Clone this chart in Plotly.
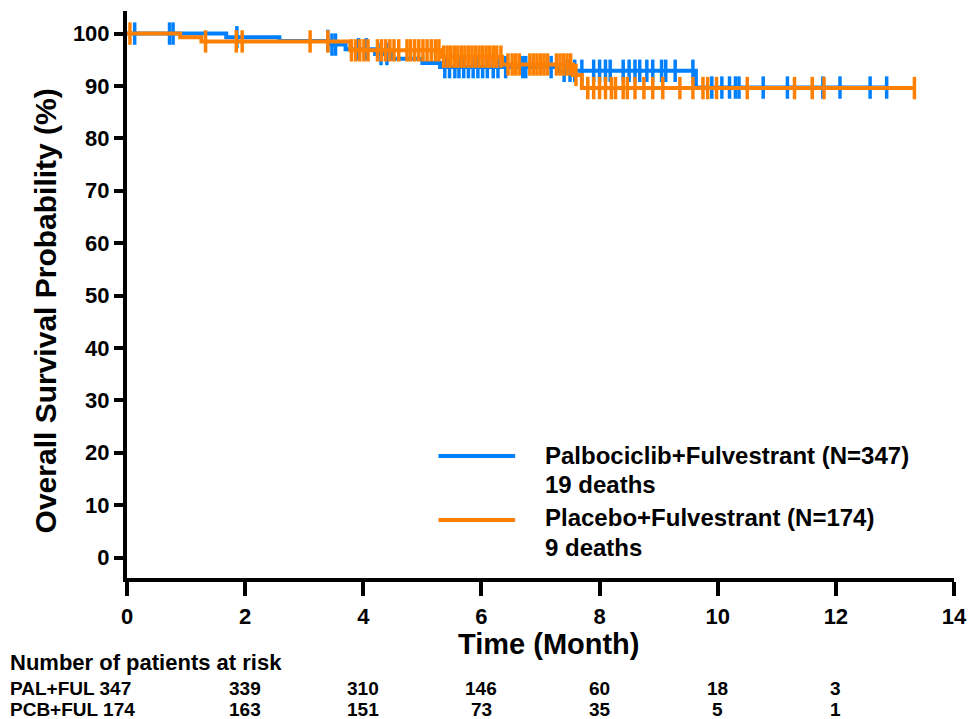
import plotly.graph_objects as go

# ---------------- data ----------------
# Kaplan-Meier step levels (time in months, survival in %)
pal_times = [0, 1.68, 2.58, 3.45, 3.70, 4.20, 4.50, 5.00, 5.30, 7.30, 9.63]
pal_surv = [100, 99.3, 98.6, 97.9, 97.0, 96.1, 95.2, 94.4, 93.6, 92.9, 89.7]
pal_end = 12.88
pal_censor = [0.13, 0.72, 0.78, 1.86, 3.40, 3.47, 3.53, 3.92, 4.05, 4.30, 4.40,
              5.38, 5.46, 5.55, 5.62, 5.70, 5.78,
              5.86, 5.94, 6.02, 6.10, 6.20, 6.28, 6.41, 6.70, 6.75, 7.18, 7.40,
              7.50, 7.58, 7.70, 7.90, 8.00, 8.10, 8.18, 8.40, 8.50, 8.60, 8.68,
              8.80, 8.90, 9.05, 9.12, 9.28, 9.58, 9.90, 10.07, 10.20, 10.30,
              10.36, 10.77, 11.18, 11.78, 12.07, 12.58, 12.86]

pcb_times = [0, 0.90, 1.26, 3.78, 5.30, 6.35, 7.55, 7.70]
pcb_surv = [100, 99.3, 98.5, 96.8, 95.6, 94.1, 92.1, 89.6]
pcb_end = 13.33
pcb_censor = [0.05, 1.33, 1.85, 1.95, 3.10, 3.40, 3.80, 3.87, 3.94, 4.01, 4.08,
              4.24, 4.31, 4.38, 4.45, 4.52, 4.60, 4.74, 4.80, 4.87, 4.94, 5.01,
              5.08, 5.15, 5.22, 5.28, 5.36, 5.42, 5.48, 5.54, 5.60, 5.66, 5.72,
              5.78, 5.84, 5.90, 5.96, 6.02, 6.08, 6.14, 6.20, 6.26, 6.33, 6.45,
              6.52, 6.58, 6.64, 6.82, 6.88, 6.94, 7.00, 7.06, 7.12, 7.27, 7.33,
              7.39, 7.45, 7.51, 7.60, 7.80, 7.90, 8.00, 8.10, 8.20, 8.27, 8.40,
              8.47, 8.60, 8.75, 8.90, 9.07, 9.36, 9.58, 9.75, 9.83, 9.98, 10.50,
              11.30, 11.60, 11.80, 13.33]

series_names = ["Palbociclib+Fulvestrant (N=347)", "Placebo+Fulvestrant (N=174)"]
series_deaths = ["19 deaths", "9 deaths"]
colors = ["#0080FF", "#FF8000"]

risk_times = [2, 4, 6, 8, 10, 12]
risk_labels = ["PAL+FUL 347", "PCB+FUL 174"]
pal_risk = [339, 310, 146, 60, 18, 3]
pcb_risk = [163, 151, 73, 35, 5, 1]

x_ticks = [0, 2, 4, 6, 8, 10, 12, 14]
y_ticks = [0, 10, 20, 30, 40, 50, 60, 70, 80, 90, 100]

# ---------------- helpers ----------------
def surv_at(times, surv, t):
    val = surv[0]
    for ti, si in zip(times, surv):
        if ti <= t:
            val = si
    return val

FONT = "Liberation Sans, Arial, sans-serif"
W, H = 978, 719
L, R, T, B = 127, 958, 11, 578


def px(x):
    return (x - L) / (R - L)


def py(y):
    return (B - y) / (B - T)


def bfont(size):
    return dict(family=FONT, size=size, color="black", weight="bold")


fig = go.Figure()

groups = [
    (pal_times, pal_surv, pal_end, pal_censor, colors[0]),
    (pcb_times, pcb_surv, pcb_end, pcb_censor, colors[1]),
]
for times, surv, end, cens, col in groups:
    fig.add_trace(go.Scatter(
        x=list(times) + [end], y=list(surv) + [surv[-1]],
        mode="lines", line=dict(color=col, width=4, shape="hv"),
        showlegend=False, hoverinfo="skip"))
    fig.add_trace(go.Scatter(
        x=cens, y=[surv_at(times, surv, c) for c in cens],
        mode="markers",
        marker=dict(symbol="line-ns", size=16, color=col,
                    line=dict(color=col, width=3.5)),
        showlegend=False, hoverinfo="skip"))

annotations = []
shapes = []

# legend (manual)
leg_line_y = [456, 520]
leg_text_y = [(455, 484), (517, 547)]
for i in range(2):
    shapes.append(dict(type="line", xref="paper", yref="paper",
                       x0=px(440), x1=px(517), y0=py(leg_line_y[i]), y1=py(leg_line_y[i]),
                       line=dict(color=colors[i], width=4)))
    annotations.append(dict(text=series_names[i], xref="paper", yref="paper",
                            x=px(545), y=py(leg_text_y[i][0]), xanchor="left", yanchor="middle",
                            showarrow=False, font=bfont(24)))
    annotations.append(dict(text=series_deaths[i], xref="paper", yref="paper",
                            x=px(545), y=py(leg_text_y[i][1]), xanchor="left", yanchor="middle",
                            showarrow=False, font=bfont(24)))

# axis titles
annotations.append(dict(text="Time (Month)", xref="paper", yref="paper",
                        x=px(551), y=py(626), xanchor="center", yanchor="top",
                        showarrow=False, font=bfont(29)))
annotations.append(dict(text="Overall Survival Probability (%)", xref="paper", yref="paper",
                        x=px(45), y=py(311), xanchor="center", yanchor="middle", textangle=-90,
                        showarrow=False, font=bfont(30)))

# number at risk table
annotations.append(dict(text="Number of patients at risk", xref="paper", yref="paper",
                        x=px(7), y=py(662), xanchor="left", yanchor="middle",
                        showarrow=False, font=bfont(22)))
row_y = [688, 709]
for lab, vals, yy in zip(risk_labels, [pal_risk, pcb_risk], row_y):
    annotations.append(dict(text=lab, xref="paper", yref="paper",
                            x=px(7), y=py(yy), xanchor="left", yanchor="middle",
                            showarrow=False, font=bfont(19)))
    for t, v in zip(risk_times, vals):
        annotations.append(dict(text=str(v), xref="x", yref="paper",
                                x=t, y=py(yy), xanchor="center", yanchor="middle",
                                showarrow=False, font=bfont(19)))

fig.update_layout(
    width=W, height=H, autosize=False,
    margin=dict(l=L, r=W - R, t=T, b=H - B, pad=0),
    paper_bgcolor="white", plot_bgcolor="white",
    font=dict(family=FONT, color="black", weight="bold"),
    annotations=annotations, shapes=shapes,
    xaxis=dict(range=[0, 14], tickvals=x_ticks, ticktext=[str(v) for v in x_ticks],
               showgrid=False, zeroline=False, showline=True, linecolor="black", linewidth=4,
               ticks="outside", ticklen=14, tickwidth=4, tickcolor="black",
               tickfont=bfont(22), ticklabelstandoff=2),
    yaxis=dict(range=[-3.91, 104.31], tickvals=y_ticks, ticktext=[str(v) for v in y_ticks],
               showgrid=False, zeroline=False, showline=True, linecolor="black", linewidth=4,
               ticks="outside", ticklen=9, tickwidth=4, tickcolor="black",
               tickfont=bfont(22)),
)

fig.write_html("out.html", config={"displayModeBar": False})
